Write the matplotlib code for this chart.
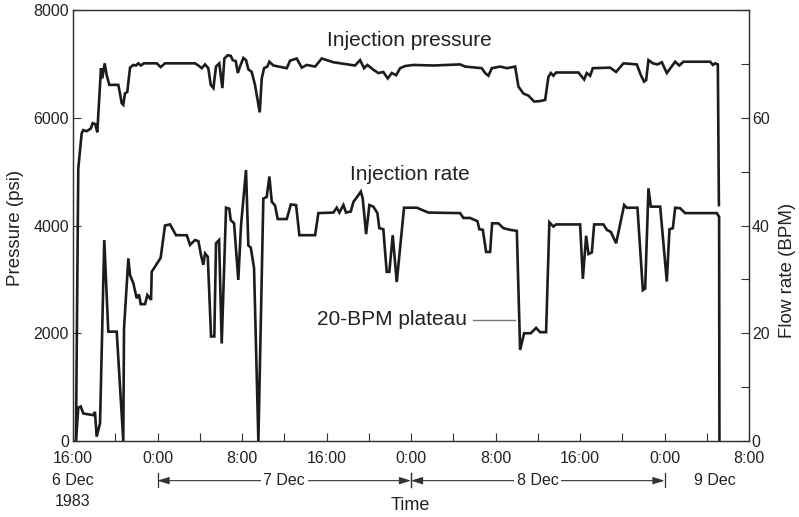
import matplotlib
matplotlib.use("Agg")
import matplotlib.pyplot as plt
import matplotlib.transforms as mtransforms
from matplotlib.ticker import MultipleLocator

plt.rcParams['font.family'] = ['Liberation Sans', 'DejaVu Sans']

# hours after 16:00 on 6 Dec 1983
press_t = [0.28, 0.5, 0.82, 0.98, 1.3, 1.68, 1.87, 2.11, 2.3, 2.65, 2.77, 3.0, 3.19, 3.44,
           4.29, 4.45, 4.61, 4.76, 4.92, 5.14, 5.4, 5.71, 5.97, 6.18, 6.41, 6.72, 7.04, 7.93,
           8.3, 8.71, 11.55, 11.87, 12.19, 12.5, 12.81, 13.04, 13.29, 13.54, 13.85, 14.14,
           14.33, 14.65, 14.93, 15.12, 15.41, 15.6, 15.81, 16.13, 16.38, 16.6, 16.92, 17.23,
           17.45, 17.68, 17.87, 18.09, 18.4, 18.59, 18.97, 20.24, 20.55, 21.18, 21.66, 22.13,
           22.92, 23.55, 24.02, 24.65, 26.7, 27.18, 27.56, 27.87, 28.44, 28.91, 29.38, 29.8,
           30.18, 30.59, 30.97, 31.44, 32.23, 34.12, 36.65, 37.12, 38.23, 38.7, 39.02, 39.33,
           39.65, 40.44, 41.07, 41.86, 42.17, 42.64, 43.12, 43.66, 44.22, 44.7, 45.01, 45.24,
           45.48, 45.74, 47.85, 48.39, 48.64, 48.96, 49.21, 50.85, 51.42, 52.11, 53.38, 53.76,
           54.07, 54.26, 54.48, 54.9, 55.33, 55.75, 56.22, 56.6, 57.01, 57.41, 57.79, 60.32,
           60.58, 60.8, 61.05, 61.15]
press_psi = [0, 5060, 5710, 5770, 5750, 5800, 5900, 5880, 5730, 6920, 6730, 7010, 6790, 6610,
             6610, 6450, 6270, 6240, 6450, 6480, 6930, 6980, 6970, 7010, 6970, 7010, 7010, 7010,
             6940, 7010, 7010, 6970, 6920, 6990, 6920, 6610, 6550, 6950, 7010, 6550,
             7100, 7160, 7150, 7070, 7050, 6830, 6950, 7110, 7070, 6900, 6850, 6610,
             6360, 6100, 6730, 6920, 6950, 7040, 6970, 6920, 7060, 7100, 6930, 6980,
             6950, 7100, 7070, 7030, 6970, 7070, 6920, 6980, 6890, 6830, 6850, 6730,
             6830, 6790, 6920, 6960, 6980, 6970, 6990, 6950, 6930, 6920, 6830, 6780,
             6920, 6950, 6920, 6950, 6580, 6450, 6410, 6300, 6310, 6330, 6760, 6830,
             6780, 6840, 6840, 6710, 6830, 6780, 6920, 6930, 6850, 7010, 6990, 6790,
             6670, 6700, 7070, 7010, 6990, 7030, 6830, 6930, 7040, 6970, 7040, 7040,
             6980, 7010, 6990, 4380]

rate_t = [0.28, 0.5, 0.73, 0.98, 1.3, 1.92, 2.08, 2.24, 2.56, 2.96, 3.34, 4.14, 4.76, 4.83,
          5.24, 5.4, 5.71, 6.03, 6.25, 6.41, 6.82, 7.04, 7.39, 7.45, 8.3, 8.71, 9.19, 9.75,
          10.77, 11.08, 11.55, 11.87, 12.12, 12.34, 12.5, 12.76, 13.07, 13.38, 13.54, 13.83,
          14.08, 14.49, 14.8, 14.93, 15.25, 15.65, 15.91, 16.38, 16.6, 16.83, 17.14, 17.55,
          18.02, 18.34, 18.59, 18.82, 19.13, 19.38, 20.24, 20.62, 21.12, 21.43, 22.92, 23.23,
          24.65, 24.97, 25.22, 25.6, 25.85, 26.3, 26.55, 26.86, 27.25, 27.43, 27.75, 28.06,
          28.44, 28.82, 29.0, 29.38, 29.7, 29.95, 30.27, 30.65, 31.34, 32.55, 33.65, 36.65,
          36.96, 37.59, 38.29, 38.47, 38.8, 39.11, 39.49, 39.68, 40.27, 40.75, 41.38, 42.02,
          42.33, 42.71, 43.34, 43.84, 44.22, 44.79, 45.1, 45.48, 45.74, 48.01, 48.27, 48.58,
          48.8, 49.12, 49.34, 50.22, 50.54, 50.92, 51.42, 52.18, 52.43, 53.44, 53.95, 54.17,
          54.48, 54.71, 55.59, 56.22, 56.47, 56.79, 57.01, 57.48, 57.95, 60.96, 61.17, 61.2]
rate_bpm = [0, 6.2, 6.4, 5.1, 5.0, 4.8, 5.4, 0.8, 3.3, 37.3, 20.3, 20.3, 0, 20.9,
            33.9, 30.8, 29.3, 26.5, 27.2, 25.4, 25.4, 27.1, 26.2, 31.4, 34.0, 40.0, 40.2, 38.2,
            38.2, 36.4, 37.3, 37.1, 34.5, 32.7, 34.8, 34.2, 19.4, 19.4, 36.7, 37.3,
            18.1, 43.3, 43.1, 41.0, 40.4, 29.9, 40.1, 50.3, 36.3, 35.9, 32.1, 0,
            45.0, 45.3, 49.1, 44.4, 43.7, 41.2, 41.2, 43.9, 43.8, 38.2, 38.2, 42.3,
            42.4, 43.3, 42.4, 43.8, 42.4, 42.6, 44.4, 45.2, 46.3, 45.0, 38.4, 43.8,
            43.5, 42.3, 39.5, 39.3, 31.4, 31.4, 38.2, 29.5, 43.3, 43.3, 42.4, 42.3,
            41.4, 41.4, 40.8, 39.3, 39.2, 35.1, 35.1, 40.4, 40.4, 39.5, 39.2, 39.0,
            16.9, 20.0, 20.0, 21.0, 20.2, 20.2, 40.6, 39.8, 40.2, 40.2, 30.1, 38.1,
            34.7, 35.0, 40.2, 40.2, 39.2, 38.8, 36.7, 43.8, 43.3, 43.3, 28.0, 28.3,
            46.9, 43.5, 43.5, 29.6, 39.3, 39.5, 43.3, 43.2, 42.3, 42.3, 41.6, 0]

tick_hours = [0, 8, 16, 24, 32, 40, 48, 56, 64]
tick_labels = ["16:00", "0:00", "8:00", "16:00", "0:00", "8:00", "16:00", "0:00", "8:00"]
day_spans = [(8, 32, "7 Dec"), (32, 56, "8 Dec")]

ink = "#1c1c1c"
axis_col = "#333333"

fig = plt.figure(figsize=(7.99, 5.17), dpi=100)
ax = fig.add_axes([73/799, 1 - 441/517, 676/799, 431/517])
ax2 = ax.twinx()

ax.plot(press_t, press_psi, color=ink, lw=1.9, solid_joinstyle='miter')
ax2.plot(rate_t, rate_bpm, color=ink, lw=1.9, solid_joinstyle='miter')

ax.set_xlim(0, 64)
ax.set_ylim(0, 8000)
ax2.set_ylim(0, 80)

ax.set_xticks(tick_hours)
ax.set_xticklabels(tick_labels)
ax.xaxis.set_minor_locator(MultipleLocator(4))
ax.set_yticks([0, 2000, 4000, 6000, 8000])
ax2.set_yticks([0, 20, 40, 60])
ax2.yaxis.set_minor_locator(MultipleLocator(10))

for a in (ax, ax2):
    for s in a.spines.values():
        s.set_color(axis_col)
        s.set_linewidth(0.9)
    a.tick_params(which='both', direction='in', length=5.8, width=0.8, color=axis_col,
                  labelsize=11.5, labelcolor="#222222")
ax.tick_params(axis='x', pad=7)
ax.tick_params(axis='y', pad=3)
ax.tick_params(top=False, right=False, which='both')
ax2.tick_params(axis='y', pad=2)

ax.text(31.8, 7440, "Injection pressure", fontsize=15, ha='center', va='center', color="#222222")
ax.text(31.9, 4940, "Injection rate", fontsize=15, ha='center', va='center', color="#222222")
ax.text(37.3, 2250, "20-BPM plateau", fontsize=15, ha='right', va='center', color="#222222")
ax.plot([37.9, 41.8], [2250, 2250], color="#777777", lw=1.0)

# day row under the time axis
trans = mtransforms.blended_transform_factory(ax.transData, ax.transAxes)
row_y = -0.092
for t0, t1, name in day_spans:
    mid = (t0 + t1) / 2
    for end in (t0, t1):
        ax.annotate("", xy=(end, row_y), xytext=(mid, row_y), xycoords=trans, textcoords=trans,
                    arrowprops=dict(arrowstyle='-|>,head_length=0.7,head_width=0.22',
                                    color=axis_col, lw=0.8, shrinkA=0, shrinkB=0),
                    annotation_clip=False)
        ax.plot([end, end], [-0.074, -0.107], transform=trans, color=axis_col, lw=0.9,
                clip_on=False)
    ax.text(mid, row_y, name, transform=trans, ha='center', va='center', fontsize=11.5,
            color="#222222", zorder=5,
            bbox=dict(facecolor='white', edgecolor='none', pad=2))

ax.text(0, row_y, "6 Dec", transform=trans, ha='center', va='center', fontsize=11.5, color="#222222")
ax.text(0, -0.141, "1983", transform=trans, ha='center', va='center', fontsize=11.5, color="#222222")
ax.text(60.8, row_y, "9 Dec", transform=trans, ha='center', va='center', fontsize=11.5, color="#222222")

fig.text(410/799, 1 - 506/517, "Time", ha='center', va='center', fontsize=13, color="#222222")
fig.text(15/799, 1 - 228/517, "Pressure (psi)", rotation=90, ha='center', va='center',
         fontsize=13.5, color="#222222")
fig.text(787/799, 1 - 270/517, "Flow rate (BPM)", rotation=90, ha='center', va='center',
         fontsize=13.5, color="#222222")

fig.savefig("out.png", dpi=100)
